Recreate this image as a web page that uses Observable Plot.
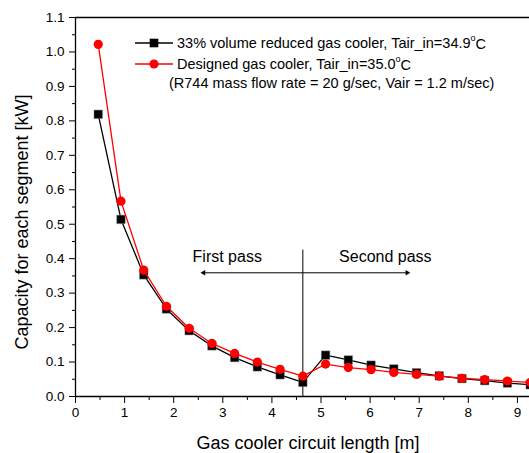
<!DOCTYPE html>
<html><head><meta charset="utf-8">
<script src="https://cdn.jsdelivr.net/npm/d3@7"></script>
<script src="https://cdn.jsdelivr.net/npm/@observablehq/plot@0.6"></script>
<style>body{margin:0;background:#fff;} svg{display:block;}</style>
</head><body><div id="chart"></div>
<script>
const lengths = [0.463,0.926,1.389,1.852,2.315,2.778,3.241,3.704,4.167,4.63,5.093,5.556,6.019,6.482,6.945,7.408,7.871,8.334,8.797,9.26];
const reduced = [0.819,0.514,0.353,0.254,0.191,0.147,0.113,0.086,0.063,0.041,0.120,0.106,0.091,0.080,0.069,0.060,0.052,0.046,0.039,0.034];
const designed = [1.022,0.567,0.367,0.262,0.198,0.154,0.125,0.100,0.079,0.059,0.094,0.084,0.078,0.070,0.064,0.059,0.053,0.049,0.045,0.041];
const seriesNames = ["33% volume reduced gas cooler, Tair_in=34.9", "Designed gas cooler, Tair_in=35.0"];
const noteText = "(R744 mass flow rate = 20 g/sec, Vair = 1.2 m/sec)";
const xTicks = [0,1,2,3,4,5,6,7,8,9];
const xMinor = [0.5,1.5,2.5,3.5,4.5,5.5,6.5,7.5,8.5];
const yTicks = [0,0.1,0.2,0.3,0.4,0.5,0.6,0.7,0.8,0.9,1.0,1.1];
const yMinor = [0.05,0.15,0.25,0.35,0.45,0.55,0.65,0.75,0.85,0.95,1.05];
const passBoundary = 4.63;
const passLabels = ["First pass", "Second pass"];
const passLabelX = [3.09, 6.31];
const arrowEnds = [2.61, 6.755];
const xLabel = "Gas cooler circuit length [m]";
const yLabel = "Capacity for each segment [kW]";

const redData = lengths.map((x,i)=>({x, y: designed[i]}));
const blackData = lengths.map((x,i)=>({x, y: reduced[i]}));
const arrowY = 0.359, passTextY = 0.4065, boundaryTop = 0.425;

const font = "'Liberation Sans', Arial, sans-serif";
const chart = Plot.plot({
  width: 529, height: 453,
  marginTop: 17, marginBottom: 57, marginLeft: 75, marginRight: 0,
  x: {domain: [0, 9.246]},
  y: {domain: [0, 1.1]},
  style: {fontFamily: font, fontSize: "13.5px", color: "black", background: "white", overflow: "hidden"},
  marks: [
    Plot.axisX({ticks: xTicks, tickSize: 7, tickPadding: 4, label: null, tickFormat: d3.format("d"), fontSize: 13.5}),
    Plot.axisX({ticks: xMinor, tickSize: 4, label: null, tickFormat: () => ""}),
    Plot.axisY({ticks: yTicks, tickSize: 6, tickPadding: 5, label: null, tickFormat: d3.format(".1f"), fontSize: 13.5}),
    Plot.axisY({ticks: yMinor, tickSize: 3, label: null, tickFormat: () => ""}),
    Plot.ruleY([0], {stroke: "black", strokeWidth: 1.3}),
    Plot.ruleY([1.1], {stroke: "black", strokeWidth: 1.3}),
    Plot.ruleX([0], {stroke: "black", strokeWidth: 1.3}),
    Plot.ruleX([passBoundary], {y1: 0, y2: boundaryTop, stroke: "black", strokeWidth: 1}),
    Plot.link(arrowEnds, {x1: passBoundary, x2: d => d, y1: arrowY, y2: arrowY, stroke: "black", strokeWidth: 1}),
    Plot.dot(arrowEnds, {x: d => d, y: arrowY, symbol: "triangle2", r: 2.6, fill: "black", stroke: null, rotate: (d) => d < passBoundary ? -90 : 90}),
    Plot.text(passLabels, {x: (d,i) => passLabelX[i], y: passTextY, text: d => d, fontSize: 16, fill: "black"}),
    Plot.line(blackData, {x: "x", y: "y", stroke: "black", strokeWidth: 1.3}),
    Plot.dot(blackData, {x: "x", y: "y", symbol: "square", r: 4.8, fill: "black", stroke: "#888", strokeWidth: 0.5}),
    Plot.line(redData, {x: "x", y: "y", stroke: "red", strokeWidth: 1.3}),
    Plot.dot(redData, {x: "x", y: "y", symbol: "circle", r: 4.6, fill: "red", stroke: null})
  ]
});
document.getElementById("chart").appendChild(chart);

const svg = d3.select(chart);
const g = svg.append("g").attr("font-family", font).attr("fill", "black").attr("text-anchor", "start");
// axis titles
g.append("text").attr("x", 308).attr("y", 443).attr("text-anchor", "middle").attr("dy", "0.35em").attr("font-size", 18).text(xLabel);
g.append("text").attr("transform", "translate(22,222) rotate(-90)").attr("text-anchor", "middle").attr("dy", "0.35em").attr("font-size", 18).text(yLabel);
// legend
const rows = [
  {y: 43, name: seriesNames[0], color: "black", sym: "square"},
  {y: 64, name: seriesNames[1], color: "red", sym: "circle"}
];
rows.forEach(r => {
  g.append("line").attr("x1", 135).attr("x2", 173).attr("y1", r.y).attr("y2", r.y).attr("stroke", r.color).attr("stroke-width", 1.3);
  if (r.sym === "square") g.append("rect").attr("x", 154-4.3).attr("y", r.y-4.3).attr("width", 8.6).attr("height", 8.6).attr("fill", "black");
  else g.append("circle").attr("cx", 154).attr("cy", r.y).attr("r", 4.6).attr("fill", "red");
  const t = g.append("text").attr("x", 177).attr("y", r.y).attr("dy", "0.35em").attr("font-size", 14.5).attr("text-anchor", "start");
  t.append("tspan").text(r.name);
  t.append("tspan").attr("font-size", 9).attr("dy", "-0.75em").text("o");
  t.append("tspan").attr("dy", "0.5em").text("C");
});
g.append("text").attr("x", 169).attr("y", 83).attr("dy", "0.35em").attr("font-size", 14.5).attr("text-anchor", "start").text(noteText);
</script>
</body></html>
